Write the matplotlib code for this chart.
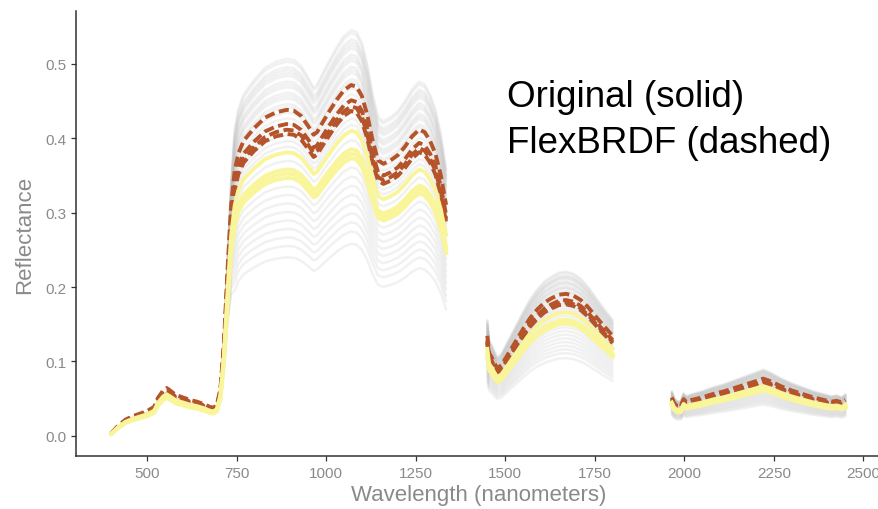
import numpy as np
import matplotlib
matplotlib.use('Agg')
import matplotlib.pyplot as plt

plt.rcParams['font.family'] = ['Liberation Sans', 'DejaVu Sans']

# visible / near infrared part (nm, reflectance of the reference pixel)
wl_vnir = [400, 420, 440, 460, 480, 500, 520, 530, 545, 555, 565, 580, 600, 620, 640, 660,
           675, 685, 695, 705, 715, 725, 735, 745, 755, 770, 800, 830, 860, 890, 910, 930,
           950, 965, 975, 990, 1010, 1030, 1050, 1070, 1085, 1100, 1115, 1130, 1145, 1160,
           1180, 1200, 1220, 1240, 1260, 1275, 1290, 1305, 1320, 1335]
refl_vnir = [0.003, 0.012, 0.019, 0.023, 0.026, 0.029, 0.034, 0.044, 0.053, 0.056, 0.053, 0.048,
             0.045, 0.042, 0.040, 0.037, 0.034, 0.033, 0.036, 0.055, 0.110, 0.195, 0.270, 0.310,
             0.330, 0.345, 0.360, 0.372, 0.378, 0.381, 0.380, 0.374, 0.362, 0.352, 0.355, 0.366,
             0.380, 0.393, 0.404, 0.410, 0.408, 0.397, 0.375, 0.345, 0.322, 0.318, 0.322, 0.328,
             0.338, 0.350, 0.358, 0.355, 0.345, 0.330, 0.305, 0.270]

# short wave infrared 1
wl_swir1 = [1450, 1455, 1462, 1470, 1478, 1490, 1510, 1530, 1550, 1570, 1590, 1610, 1630, 1650,
            1670, 1690, 1710, 1730, 1750, 1770, 1785, 1800]
refl_swir1 = [0.117, 0.097, 0.092, 0.085, 0.079, 0.083, 0.097, 0.111, 0.125, 0.138, 0.148, 0.156,
              0.161, 0.165, 0.166, 0.164, 0.159, 0.151, 0.141, 0.131, 0.124, 0.117]

# short wave infrared 2
wl_swir2 = [1965, 1972, 1980, 1990, 1998, 2005, 2020, 2050, 2080, 2110, 2140, 2170, 2200, 2220,
            2240, 2270, 2300, 2330, 2360, 2390, 2410, 2425, 2440, 2450]
refl_swir2 = [0.045, 0.038, 0.035, 0.035, 0.043, 0.040, 0.042, 0.045, 0.049, 0.052, 0.056, 0.060,
              0.064, 0.067, 0.064, 0.058, 0.053, 0.049, 0.045, 0.042, 0.040, 0.041, 0.039, 0.042]

# highlighted pixels: factor to the reference pixel
orig_scale = [1.0, 0.94, 0.925, 0.91]
flex_scale = [1.15, 1.10, 1.08, 1.065]

# all the other pixels (grey)
gray_scale = [1.33, 1.32, 1.30, 1.29, 1.28, 1.27, 1.25, 1.24, 1.23, 1.21, 1.20, 1.19, 1.17,
              1.16, 1.14, 1.12, 1.10, 1.08, 1.06, 1.04, 1.02, 1.00, 0.97, 0.94, 0.91, 0.88,
              0.85, 0.82, 0.79, 0.76, 0.73, 0.70, 0.67, 0.63]

segments = [(wl_vnir, refl_vnir), (wl_swir1, refl_swir1), (wl_swir2, refl_swir2)]


# spectrum of one pixel, visible part spreads less than the infrared
def spectrum(wl, refl, k, vis_k):
    wl = np.array(wl)
    w = np.clip((wl - 700) / 45.0, 0, 1)
    return wl, np.array(refl) * (vis_k + (k - vis_k) * w)


fig = plt.figure(figsize=(8.79, 5.10), dpi=100)
ax = fig.add_axes([0.0865, 0.1039, 0.917, 0.8726])

for wl, refl in segments:
    for k in gray_scale:
        x, y = spectrum(wl, refl, k, 1 + 0.1 * (k - 1))
        ax.plot(x, y, color='#bdbdbd', alpha=0.2, lw=1.8, solid_capstyle='round')
    for k in flex_scale:
        x, y = spectrum(wl, refl, k, k)
        ax.plot(x, y, color='#b5532a', lw=2.8, dashes=(2.6, 1.2))
    for k in orig_scale:
        x, y = spectrum(wl, refl, k, k)
        ax.plot(x, y, color='#f9f59b', lw=2.8)

ax.text(1505, 0.443, 'Original (solid)', fontsize=26.5, color='black')
ax.text(1505, 0.381, 'FlexBRDF (dashed)', fontsize=26.5, color='black')

ax.set_xlim(302, 2552)
ax.set_ylim(-0.027, 0.571)
ax.set_xticks([500, 750, 1000, 1250, 1500, 1750, 2000, 2250, 2500])
ax.set_yticks([0.0, 0.1, 0.2, 0.3, 0.4, 0.5])
ax.set_yticklabels(['0.0', '0.1', '0.2', '0.3', '0.4', '0.5'])
ax.tick_params(labelsize=11, labelcolor='#8a8a8a', color='#333333', length=3.5, width=0.9)
ax.set_xlabel('Wavelength (nanometers)', fontsize=16, color='#8a8a8a', labelpad=3)
ax.set_ylabel('Reflectance', fontsize=16, color='#8a8a8a', labelpad=7)

for s in ['top', 'right']:
    ax.spines[s].set_visible(False)
for s in ['left', 'bottom']:
    ax.spines[s].set_color('#333333')
    ax.spines[s].set_linewidth(1.1)

fig.savefig('out.png', dpi=100)
